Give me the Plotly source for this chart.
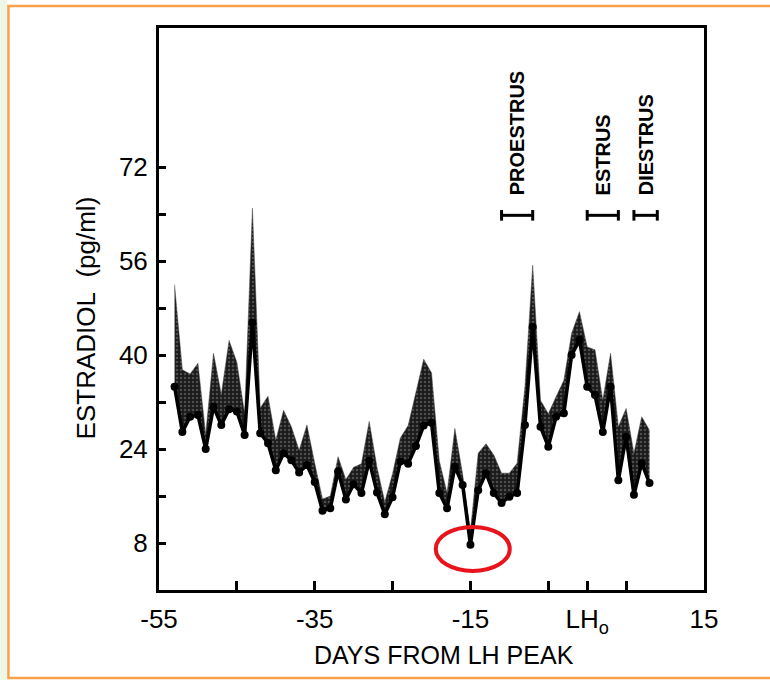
import plotly.graph_objects as go

# ---- data ----
days = list(range(-53, 9))
mean_e2 = [34.6, 26.9, 29.5, 29.8, 24.0, 31.2, 28.1, 30.8, 30.4, 26.4,
           45.5, 26.7, 25.0, 20.4, 23.3, 22.1, 20.0, 21.3, 18.4, 13.5,
           13.9, 20.2, 15.4, 18.0, 16.5, 22.0, 16.6, 12.9, 15.8, 21.9,
           21.5, 24.5, 28.0, 28.5, 16.5, 13.9, 21.0, 17.9, 7.7, 17.0,
           19.9, 16.5, 14.8, 15.9, 16.5, 28.1, 44.8, 27.8, 24.4, 29.5,
           30.1, 40.0, 42.6, 34.6, 33.2, 26.9, 34.6, 18.7, 26.1, 16.2,
           21.6, 18.2]
upper_e2 = [52.0, 37.5, 36.8, 38.6, 26.5, 40.3, 33.3, 42.5, 38.8, 30.0,
            65.0, 31.0, 33.0, 25.5, 30.6, 27.8, 23.8, 28.1, 21.6, 15.5,
            16.0, 22.7, 18.8, 20.9, 21.5, 28.7, 20.9, 15.0, 19.8, 25.9,
            28.0, 33.5, 39.3, 37.0, 22.0, 16.5, 27.5, 19.7, 10.0, 23.3,
            24.9, 23.0, 19.9, 19.9, 21.6, 34.6, 55.3, 32.3, 30.0, 32.9,
            35.7, 43.7, 47.4, 41.4, 40.9, 32.3, 40.3, 27.8, 30.9, 23.3,
            29.5, 27.2]

x_tickvals = [-55, -35, -15, 0, 15]
x_ticktext = ["-55", "-35", "-15", "LH<sub>o</sub>", "15"]
x_minor_ticks = [-45, -25, -5, 5]
y_tickvals = [8, 24, 40, 56, 72]
y_ticktext = ["8", "24", "40", "56", "72"]
y_minor_ticks = [16, 32, 48, 64]

stages = ["PROESTRUS", "ESTRUS", "DIESTRUS"]
stage_start = [-11, 0, 6]
stage_end = [-7, 4, 9]

highlight_day = -14.7
highlight_value = 7.0

FONT = "Liberation Sans, Arial, sans-serif"
BAR_Y = 63.8

fig = go.Figure()
fig.add_trace(go.Scatter(x=days, y=mean_e2, mode="lines",
                         line=dict(width=0, color="black"),
                         showlegend=False, hoverinfo="skip"))
fig.add_trace(go.Scatter(x=days, y=upper_e2, mode="lines",
                         line=dict(width=0.5, color="#444"),
                         fill="tonexty", fillcolor="#2a2a2a",
                         fillpattern=dict(shape=".", fgcolor="#808080",
                                          bgcolor="#1a1a1a", size=4,
                                          solidity=0.3),
                         showlegend=False, hoverinfo="skip"))
fig.add_trace(go.Scatter(x=days, y=mean_e2, mode="lines+markers",
                         line=dict(width=3.5, color="black"),
                         marker=dict(size=8, color="black"),
                         showlegend=False))

shapes = []
for s, e in zip(stage_start, stage_end):
    shapes.append(dict(type="line", xref="x", yref="y", x0=s, x1=e,
                       y0=BAR_Y, y1=BAR_Y, line=dict(color="black", width=3)))
    for xv in (s, e):
        shapes.append(dict(type="line", xref="x", yref="y", x0=xv, x1=xv,
                           y0=BAR_Y - 0.9, y1=BAR_Y + 0.9,
                           line=dict(color="black", width=3)))

# highlight ellipse
shapes.append(dict(type="circle", xref="x", yref="y",
                   xsizemode="pixel", ysizemode="pixel",
                   xanchor=highlight_day, yanchor=highlight_value,
                   x0=-37, x1=37, y0=-22, y1=22,
                   line=dict(color="#E8141C", width=4)))

# slide frame (orange) and green edge
shapes.append(dict(type="rect", xref="paper", yref="paper",
                   x0=-0.2915, x1=-0.2780, y0=-0.2, y1=1.1,
                   fillcolor="#eef7e6", line=dict(width=0), layer="below"))
shapes.append(dict(type="rect", xref="paper", yref="paper",
                   x0=-0.2763, x1=1.2, y0=-0.1566, y1=1.0391,
                   line=dict(color="#F7A24A", width=2.5)))

annotations = []
for name, s, e in zip(stages, stage_start, stage_end):
    annotations.append(dict(x=(s + e) / 2, y=66.9, xref="x", yref="y",
                            text="<b>" + name + "</b>", textangle=-90,
                            showarrow=False, xanchor="center", yanchor="bottom",
                            font=dict(family=FONT, size=20, color="black")))

annotations.append(dict(x=0.5228, y=-0.115, xref="paper", yref="paper",
                        text="DAYS FROM LH PEAK", showarrow=False,
                        xanchor="center", yanchor="middle",
                        font=dict(family=FONT, size=25, color="black")))
annotations.append(dict(x=-0.134, y=0.485, xref="paper", yref="paper",
                        text="ESTRADIOL&nbsp;&nbsp;(pg/ml)", showarrow=False,
                        textangle=-90, xanchor="center", yanchor="middle",
                        font=dict(family=FONT, size=26, color="black")))

fig.update_layout(
    width=770, height=680,
    margin=dict(l=159, r=66, t=28, b=90),
    paper_bgcolor="white", plot_bgcolor="white",
    shapes=shapes, annotations=annotations,
    showlegend=False,
    font=dict(family=FONT, color="black"),
)
fig.update_xaxes(range=[-55, 15], showgrid=False, zeroline=False,
                 showline=True, linecolor="black", linewidth=3, mirror=True,
                 tickmode="array", tickvals=x_tickvals, ticktext=x_ticktext,
                 ticks="inside", ticklen=9, tickwidth=2.5, tickcolor="black",
                 minor=dict(tickvals=x_minor_ticks, ticks="inside", ticklen=9,
                            tickwidth=2.5, tickcolor="black", showgrid=False),
                 tickfont=dict(family=FONT, size=26, color="black"),
                 ticklabelstandoff=4)
fig.update_yaxes(range=[0, 95.7], showgrid=False, zeroline=False,
                 showline=True, linecolor="black", linewidth=3, mirror=True,
                 tickmode="array", tickvals=y_tickvals, ticktext=y_ticktext,
                 ticks="inside", ticklen=7, tickwidth=2.5, tickcolor="black",
                 minor=dict(tickvals=y_minor_ticks, ticks="inside", ticklen=7,
                            tickwidth=2.5, tickcolor="black", showgrid=False),
                 tickfont=dict(family=FONT, size=26, color="black"),
                 ticklabelstandoff=3)

fig.write_html("out.html")
